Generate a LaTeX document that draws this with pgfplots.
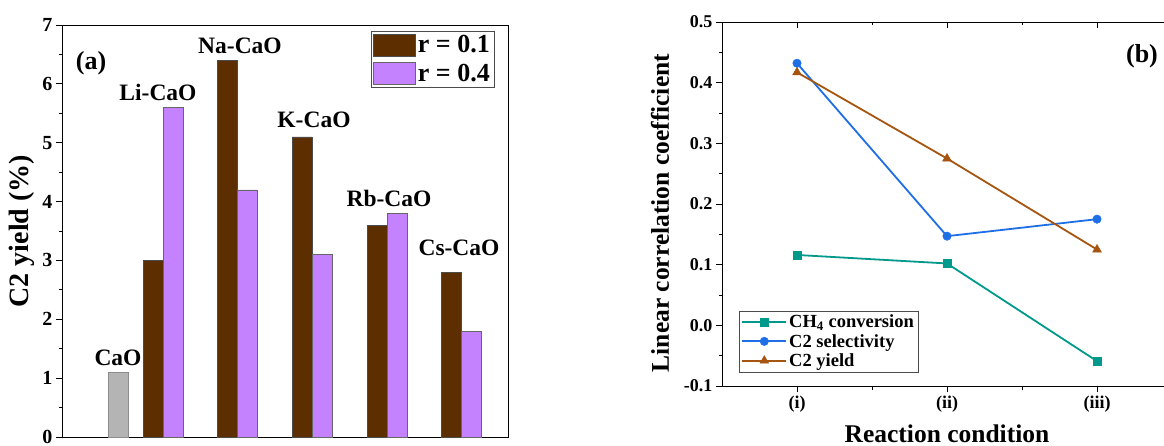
\documentclass[border=0pt]{standalone}
\usepackage{fontspec}
\setmainfont{Liberation Serif}
\usepackage{pgfplots}
\pgfplotsset{compat=1.18}
\definecolor{brownA}{RGB}{92,46,0}
\definecolor{purpA}{RGB}{196,130,255}
\definecolor{grayA}{RGB}{180,180,180}
\definecolor{tealB}{RGB}{0,153,140}
\definecolor{blueB}{RGB}{30,110,230}
\definecolor{brownB}{RGB}{165,85,15}
\begin{document}
\begin{tikzpicture}[x=1pt,y=1pt]
% ---------------- (a) ----------------
\begin{axis}[
  at={(62pt,8pt)}, anchor=south west,
  scale only axis, width=446pt, height=412pt,
  xmin=62, xmax=508, ymin=0, ymax=7,
  xtick=\empty,
  ytick={0,1,...,7}, minor y tick num=1,
  ytick pos=left, tick align=outside,
  major tick length=6pt, minor tick length=3.5pt,
  axis line style={line width=0.8pt},
  every tick/.style={black, line width=0.8pt},
  /pgf/number format/assume math mode=true,
  yticklabel style={font=\fontsize{20}{22}\selectfont\bfseries},
  ylabel={C2 yield (\%)},
  ylabel style={font=\fontsize{28}{30}\selectfont\bfseries, at={(axis description cs:-0.0897,0.5)}, anchor=center},
  ybar, bar shift=0pt, bar width=20,
  legend style={at={(rel axis cs:0.693,0.985)}, anchor=north west,
    draw=black!70, line width=0.6pt, inner sep=2pt,
    font=\fontsize{26}{30}\selectfont\bfseries,
    row sep=6pt, cells={anchor=west}},
  legend image code/.code={\draw[#1, line width=0.6pt] (0pt,-11pt) rectangle (42pt,11pt);},
]
\addplot[fill=grayA, draw=black!45, line width=0.6pt, forget plot] coordinates {(118,1.1)};
\addplot[fill=brownA, draw=black!70, line width=0.6pt] coordinates {(153,3.0) (227,6.4) (302,5.1) (377,3.6) (451,2.8)};
\addplot[fill=purpA, draw=black!60, line width=0.6pt] coordinates {(173,5.6) (247,4.2) (322,3.1) (397,3.8) (471,1.8)};
\legend{r = 0.1, r = 0.4}
\begin{scope}[font=\fontsize{23.5}{26}\selectfont\bfseries]
\node at (axis cs:118,1.34) {CaO};
\node at (axis cs:158,5.85) {Li-CaO};
\node at (axis cs:240,6.64) {Na-CaO};
\node at (axis cs:314,5.39) {K-CaO};
\node at (axis cs:389,4.06) {Rb-CaO};
\node at (axis cs:459,3.21) {Cs-CaO};
\end{scope}
\node[font=\fontsize{26}{30}\selectfont\bfseries] at (axis cs:91,6.35) {(a)};
\end{axis}
% ---------------- (b) ----------------
\begin{axis}[
  at={(722pt,59pt)}, anchor=south west,
  scale only axis, width=450pt, height=364pt,
  xmin=0.5, xmax=3.5, ymin=-0.1, ymax=0.5,
  xtick={1,2,3}, xticklabels={(i),(ii),(iii)},
  minor x tick num=1,
  ytick={-0.1,0,0.1,0.2,0.3,0.4,0.5}, minor y tick num=1,
  ytick pos=left, xtick pos=bottom, tick align=outside,
  major tick length=6pt, minor tick length=3.5pt,
  axis line style={line width=0.8pt},
  every tick/.style={black, line width=0.8pt},
  /pgf/number format/assume math mode=true,
  yticklabel style={font=\fontsize{18}{20}\selectfont\bfseries, /pgf/number format/.cd, fixed, fixed zerofill, precision=1},
  xticklabel style={font=\fontsize{18}{20}\selectfont\bfseries},
  ylabel={Linear correlation coefficient},
  ylabel style={font=\fontsize{25.5}{28}\selectfont\bfseries, at={(axis description cs:-0.138,0.475)}, anchor=center},
  xlabel={Reaction condition},
  xlabel style={font=\fontsize{25.5}{28}\selectfont\bfseries, at={(axis description cs:0.5,-0.13)}, anchor=center},
  legend style={at={(rel axis cs:0.038,0.038)}, anchor=south west,
    draw=black!70, line width=0.6pt, inner sep=2pt,
    font=\fontsize{18.5}{20}\selectfont\bfseries,
    row sep=1pt, cells={anchor=west}},
  legend image code/.code={\draw[mark repeat=2,mark phase=2,#1] plot coordinates {(0pt,0pt) (22pt,0pt) (44pt,0pt)};},
]
\addplot[color=tealB, line width=1.8pt, mark=square*, mark size=4pt, mark options={line width=0.5pt}] coordinates {(1,0.116) (2,0.102) (3,-0.059)};
\addplot[color=blueB, line width=1.8pt, mark=*, mark size=4.2pt, mark options={line width=0.5pt}] coordinates {(1,0.432) (2,0.147) (3,0.175)};
\addplot[color=brownB, line width=1.8pt, mark=triangle*, mark size=5pt, mark options={line width=0.5pt}] coordinates {(1,0.417) (2,0.275) (3,0.125)};
\legend{CH\textsubscript{4} conversion, C2 selectivity, C2 yield}
\node[font=\fontsize{26}{30}\selectfont\bfseries] at (axis cs:3.3,0.443) {(b)};
\end{axis}
% top inward ticks for (b)
\begin{axis}[
  at={(722pt,59pt)}, anchor=south west,
  scale only axis, width=450pt, height=364pt,
  xmin=0.5, xmax=3.5, ymin=-0.1, ymax=0.5,
  axis x line*=top, hide y axis,
  xtick={1,2,3}, xticklabels={}, minor x tick num=1,
  tick align=inside,
  major tick length=6pt, minor tick length=3.5pt,
  axis line style={line width=0.8pt, -},
  every tick/.style={black, line width=0.8pt},
]
\end{axis}
\pgfresetboundingbox
\useasboundingbox (0pt,0pt) rectangle (1164pt,445pt);
\end{tikzpicture}
\end{document}
